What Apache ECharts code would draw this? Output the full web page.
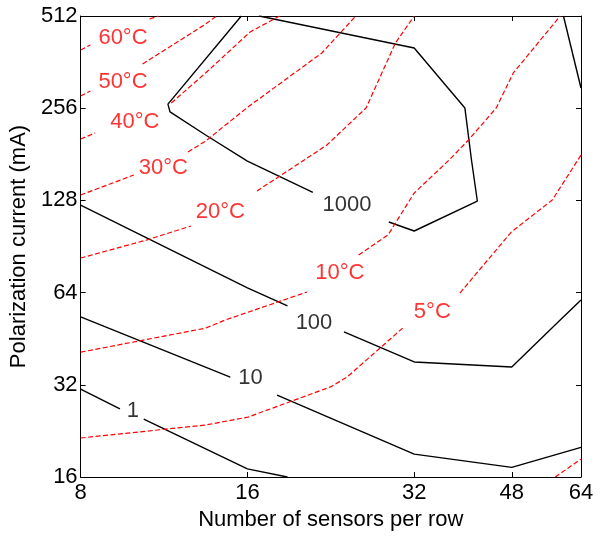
<!DOCTYPE html>
<html>
<head>
<meta charset="utf-8">
<script src="https://cdn.jsdelivr.net/npm/echarts@6/dist/echarts.min.js"></script>
<style>html,body{margin:0;padding:0;background:#fff}#c{width:601px;height:538px}</style>
</head>
<body>
<div id="c"></div>
<script>
// Axis ticks
const xTicks = [8, 16, 32, 48, 64];
const yTicks = [16, 32, 64, 128, 256, 512];

// Black contours (pieces separated where an inline label sits)
const black1 = [[[8, 31.0], [9.42, 26.7]], [[10.4, 24.7], [16, 17.0], [18.9, 16]]];
const black10 = [[[8, 53.3], [14.9, 33.9]], [[18.1, 29.6], [32, 19.0], [48, 17.2], [64, 20.0]]];
const black100 = [[[8, 123.6], [16, 66.3], [18.9, 57.9]], [[23.9, 47.6], [32, 38.0], [48, 36.6], [58.7, 52.1], [64, 60.5]]];
const black1000 = [[[15.6, 512], [11.5, 264], [11.6, 249], [13.45, 209.3], [16, 172], [21.0, 136]],
                   [[28.8, 108.8], [32, 101.7], [41.6, 127.4], [40.6, 173.4], [39.5, 256.5], [32, 402.5], [16.8, 512]],
                   [[59.5, 512], [64, 298]]];

// Red temperature contours
const red60 = [[[8, 396.5], [8.33, 411.7]], [[10.66, 500.6], [11.06, 512]]];
const red50 = [[[8, 280.6], [8.33, 291.3]], [[10.35, 356.8], [13.45, 482], [14.07, 512]]];
const red40 = [[[8, 203], [8.5, 212.5]], [[11.66, 266.2], [13.45, 333.6], [16.18, 454], [18.29, 512]]];
const red30 = [[[8, 133.3], [9.98, 154.9]], [[12.5, 184.2], [13.45, 200], [16.04, 258.4], [21.8, 387.7], [25.1, 512]]];
const red20 = [[[8, 83.0], [10.52, 95.0], [12.65, 105.6]], [[16.65, 137.4], [20.26, 173.4], [22.26, 194.1], [26.2, 256.5], [29.6, 418], [32, 512]]];
const red10 = [[[8, 40.9], [13.45, 49.0], [14.6, 52.1], [20.5, 64.3]],
               [[25.4, 84.9], [28.7, 98.7], [32, 135.3], [37.0, 173.4], [40.1, 201.6], [45.0, 256.5], [48.3, 333.6], [58.7, 512]]];
const red5 = [[[8, 21.45], [13.45, 23.65], [16.04, 25.1], [22.6, 31.5], [24.2, 33.9], [30.5, 49.0]],
              [[38.7, 63.8], [47.9, 100.9], [56.8, 128.4], [64, 180]],
              [[57.5, 16], [64, 18.3]]];

// Inline labels
const blackLabels = [['1', 9.94, 26.3], ['10', 16.2, 33.7], ['100', 21.1, 50.9], ['1000', 24.2, 123.6]];
const redLabels = [['60°C', 9.54, 433.9], ['50°C', 9.54, 311.7], ['40°C', 10.02, 230.7], ['30°C', 11.28, 163.3],
                   ['20°C', 14.3, 117.3], ['10°C', 23.5, 74.2], ['5°C', 34.5, 55.3]];

const FONT = '"Liberation Sans", Arial, sans-serif';
const FS = 22;
const series = [];
function addPieces(pieces, style) {
  pieces.forEach(p => series.push({
    type: 'line', xAxisIndex: 0, yAxisIndex: 0, data: p, symbol: 'none', showSymbol: false,
    silent: true, animation: false, lineStyle: style, z: 3
  }));
}
const blackStyle = { color: '#000', width: 1.4 };
const redStyle = { color: '#ff0000', width: 1.2, type: [5, 2.5] };
[black1, black10, black100, black1000].forEach(c => addPieces(c, blackStyle));
[red60, red50, red40, red30, red20, red10, red5].forEach(c => addPieces(c, redStyle));

function labelSeries(list, color) {
  return {
    type: 'scatter', xAxisIndex: 0, yAxisIndex: 0, symbolSize: 1, silent: true, animation: false,
    itemStyle: { color: 'transparent' }, z: 5,
    data: list.map(l => ({ name: l[0], value: [l[1], l[2]] })),
    label: { show: true, position: 'inside', formatter: p => p.name, color: color, fontSize: FS, fontFamily: FONT }
  };
}
series.push(labelSeries(blackLabels, '#000'));
series.push(labelSeries(redLabels, '#ff0000'));

const tickLine = { color: '#000', width: 1 };
const xTickPos = xTicks.map(v => Math.log2(v));

const option = {
  backgroundColor: '#fff',
  animation: false,
  grid: { left: 73, right: 20, top: 16, bottom: 61, containLabel: false },
  xAxis: [
    { type: 'log', logBase: 2, min: 8, max: 64, position: 'bottom',
      axisLine: { show: true, lineStyle: tickLine }, axisTick: { show: false }, axisLabel: { show: false }, splitLine: { show: false } },
    { type: 'value', min: 3, max: 6, position: 'bottom',
      axisLine: { show: false },
      axisTick: { show: true, inside: true, length: 5, lineStyle: tickLine, customValues: xTickPos },
      axisLabel: { show: true, customValues: xTickPos, formatter: v => String(Math.round(Math.pow(2, v))),
                   fontSize: FS, fontFamily: FONT, color: '#000', margin: 5 },
      splitLine: { show: false },
      name: 'Number of sensors per row', nameLocation: 'middle', nameGap: 27,
      nameTextStyle: { fontSize: FS, fontFamily: FONT, color: '#000' } },
    { type: 'value', min: 3, max: 6, position: 'top',
      axisLine: { show: true, lineStyle: tickLine },
      axisTick: { show: true, inside: true, length: 5, lineStyle: tickLine, customValues: xTickPos },
      axisLabel: { show: false }, splitLine: { show: false } }
  ],
  yAxis: [
    { type: 'log', logBase: 2, min: yTicks[0], max: yTicks[yTicks.length - 1], position: 'left',
      axisLine: { show: true, lineStyle: tickLine },
      axisTick: { show: true, inside: true, length: 5, lineStyle: tickLine },
      axisLabel: { show: true, fontSize: FS, fontFamily: FONT, color: '#000', margin: 3 },
      splitLine: { show: false },
      name: 'Polarization current (mA)', nameLocation: 'middle', nameGap: 44,
      nameTextStyle: { fontSize: FS, fontFamily: FONT, color: '#000' } },
    { type: 'log', logBase: 2, min: yTicks[0], max: yTicks[yTicks.length - 1], position: 'right',
      axisLine: { show: true, lineStyle: tickLine },
      axisTick: { show: true, inside: true, length: 5, lineStyle: tickLine },
      axisLabel: { show: false }, splitLine: { show: false } }
  ],
  series: series
};
const chart = echarts.init(document.getElementById('c'), null, { renderer: 'canvas' });
chart.setOption(option);
</script>
</body>
</html>
